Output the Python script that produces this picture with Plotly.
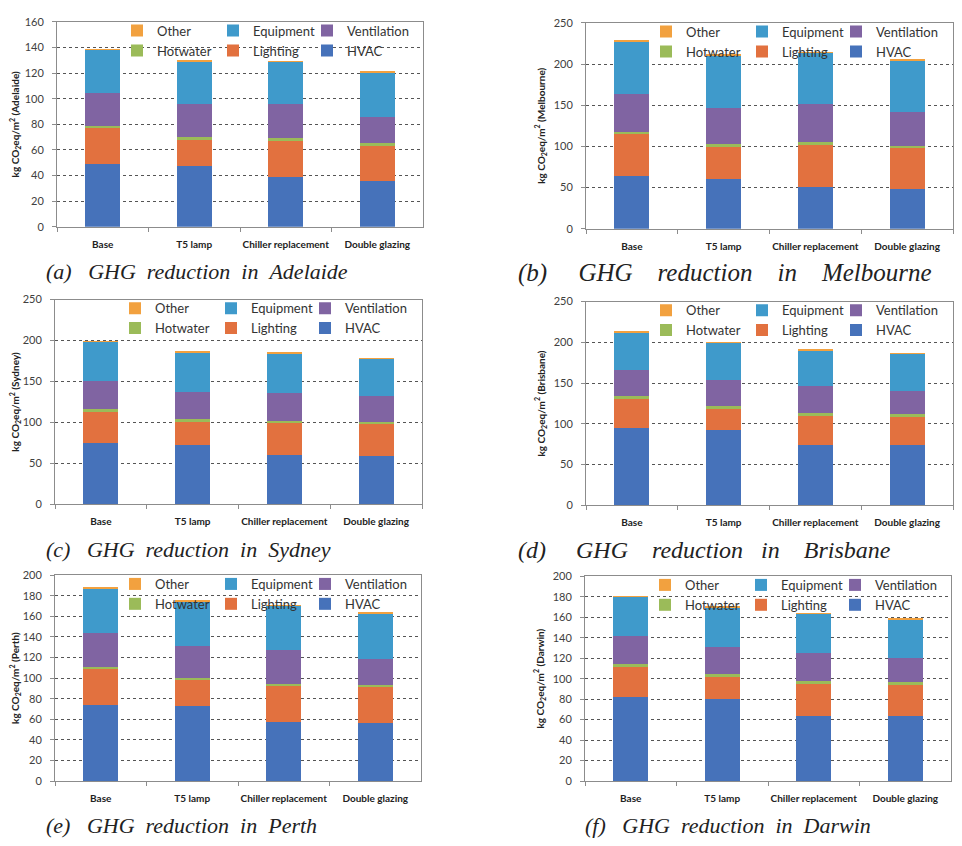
import plotly.graph_objects as go

W, H = 962, 846
PAGE_OFFSET = 8  # default body margin of the page that holds the figure

categories = ["Base", "T5 lamp", "Chiller replacement", "Double glazing"]
series_names = ["HVAC", "Lighting", "Hotwater", "Ventilation", "Equipment", "Other"]

# kg CO2eq/m2 per end use
adelaide_hvac = [49, 47.4, 39, 36]
adelaide_lighting = [27.8, 20.4, 28, 27]
adelaide_hotwater = [1.8, 2.2, 2, 2]
adelaide_ventilation = [26, 25.5, 26.5, 21]
adelaide_equipment = [33.7, 34, 33.5, 34.5]
adelaide_other = [0.5, 0.5, 0.5, 0.5]

melbourne_hvac = [64, 60.5, 50.5, 48.5]
melbourne_lighting = [51.5, 40, 52, 50]
melbourne_hotwater = [2, 2.4, 2.4, 2.4]
melbourne_ventilation = [46, 43.5, 46, 40.5]
melbourne_equipment = [64, 64, 63, 63]
melbourne_other = [0.8, 0.8, 0.8, 0.8]

sydney_hvac = [75, 73, 60, 59]
sydney_lighting = [39, 29, 40, 40]
sydney_hotwater = [2, 2, 2, 2]
sydney_ventilation = [35, 33, 34, 31]
sydney_equipment = [48, 49.5, 49, 46]
sydney_other = [0.7, 0.7, 0.7, 0.7]

brisbane_hvac = [95, 92, 74.5, 74.5]
brisbane_lighting = [37, 27, 35.5, 35.5]
brisbane_hotwater = [2, 2.4, 3, 2.3]
brisbane_ventilation = [32, 32, 33, 28]
brisbane_equipment = [47, 46.5, 45, 46]
brisbane_other = [0.7, 0.7, 0.7, 0.5]

perth_hvac = [74, 72.5, 57.5, 56]
perth_lighting = [35, 25.5, 34.5, 35]
perth_hotwater = [2, 2.5, 2, 2]
perth_ventilation = [33, 31, 33, 26]
perth_equipment = [43, 43, 43, 44]
perth_other = [0.5, 0.5, 0.5, 0.5]

darwin_hvac = [82, 80, 64, 64]
darwin_lighting = [29, 22, 31, 30]
darwin_hotwater = [3, 3, 2.5, 2.5]
darwin_ventilation = [27.5, 26, 28, 23.5]
darwin_equipment = [38, 38, 37.5, 37.5]
darwin_other = [0.8, 0.8, 0.8, 0.8]

city_data = {
    "Adelaide": [adelaide_hvac, adelaide_lighting, adelaide_hotwater,
                 adelaide_ventilation, adelaide_equipment, adelaide_other],
    "Melbourne": [melbourne_hvac, melbourne_lighting, melbourne_hotwater,
                  melbourne_ventilation, melbourne_equipment, melbourne_other],
    "Sydney": [sydney_hvac, sydney_lighting, sydney_hotwater,
               sydney_ventilation, sydney_equipment, sydney_other],
    "Brisbane": [brisbane_hvac, brisbane_lighting, brisbane_hotwater,
                 brisbane_ventilation, brisbane_equipment, brisbane_other],
    "Perth": [perth_hvac, perth_lighting, perth_hotwater,
              perth_ventilation, perth_equipment, perth_other],
    "Darwin": [darwin_hvac, darwin_lighting, darwin_hotwater,
               darwin_ventilation, darwin_equipment, darwin_other],
}

colors = {
    "HVAC": "#4672BA",
    "Lighting": "#E2713F",
    "Hotwater": "#9BBB59",
    "Ventilation": "#8064A2",
    "Equipment": "#3F9ACB",
    "Other": "#F2A13F",
}

legend_col = {"HVAC": 2, "Lighting": 1, "Hotwater": 0,
              "Ventilation": 2, "Equipment": 1, "Other": 0}
legend_col_offset = [60, 156, 250]   # px from plot left edge

# panel geometry in screen pixels (as seen in the reference)
panels = [
    dict(city="Adelaide", letter="a", l=57, r=423, t=15, b=223, ymax=160, dtick=20,
         cx=44, cy=268, cs=22, gaps=(3, 2, 2, 2)),
    dict(city="Melbourne", letter="b", l=586, r=953, t=16, b=225, ymax=250, dtick=50,
         cx=516, cy=270, cs=25, gaps=(5, 4, 4, 4)),
    dict(city="Sydney", letter="c", l=55, r=422, t=297, b=505, ymax=250, dtick=50,
         cx=44, cy=551, cs=22, gaps=(3, 2, 2, 2)),
    dict(city="Brisbane", letter="d", l=586, r=953, t=299, b=506, ymax=250, dtick=50,
         cx=516, cy=551, cs=24, gaps=(5, 4, 3, 4)),
    dict(city="Perth", letter="e", l=55, r=421, t=577, b=786, ymax=200, dtick=20,
         cx=44, cy=831, cs=22, gaps=(3, 2, 2, 2)),
    dict(city="Darwin", letter="f", l=585, r=951, t=578, b=786, ymax=200, dtick=20,
         cx=583, cy=831, cs=22, gaps=(3, 2, 2, 2)),
]


def px_x(x):
    return (x - PAGE_OFFSET) / W


def px_y(y):
    return 1 - (y - PAGE_OFFSET) / H


fig = go.Figure()
layout = dict(
    width=W, height=H,
    margin=dict(l=0, r=0, t=0, b=0),
    paper_bgcolor="white", plot_bgcolor="white",
    barmode="stack", bargap=0.62,
    font=dict(family="Lato", color="#333333"),
    showlegend=True,
)
annotations = []
NB = "\u00a0"

for k, p in enumerate(panels):
    i = k + 1
    xa = "x" if i == 1 else f"x{i}"
    ya = "y" if i == 1 else f"y{i}"
    leg_names = []
    for c in range(3):
        idx = 3 * k + c + 1
        leg_names.append("legend" if idx == 1 else f"legend{idx}")
    vals = city_data[p["city"]]
    for j, name in enumerate(series_names):
        fig.add_trace(go.Bar(
            x=categories, y=vals[j], name=name,
            marker=dict(color=colors[name], line=dict(width=0)),
            xaxis=xa, yaxis=ya,
            legend=leg_names[legend_col[name]],
        ))
    xd = [px_x(p["l"]), px_x(p["r"])]
    yd = [px_y(p["b"]), px_y(p["t"])]
    xkey = "xaxis" if i == 1 else f"xaxis{i}"
    ykey = "yaxis" if i == 1 else f"yaxis{i}"
    layout[xkey] = dict(
        domain=xd, anchor=ya, type="category",
        showline=True, linecolor="#8c8c8c", linewidth=1, mirror=True,
        ticks="outside", tickson="boundaries", ticklen=4, tickcolor="#8c8c8c",
        showgrid=False, ticklabelstandoff=8, tickangle=0,
        tickfont=dict(family="Lato", size=10, color="#222222", weight="bold"),
    )
    layout[ykey] = dict(
        domain=yd, anchor=xa, range=[0, p["ymax"]], dtick=p["dtick"],
        showline=True, linecolor="#8c8c8c", linewidth=1, mirror=True,
        ticks="outside", ticklen=4, tickcolor="#8c8c8c",
        showgrid=True, gridcolor="#555555", griddash="dot", gridwidth=1,
        zeroline=False, ticklabelstandoff=6,
        tickfont=dict(family="Lato", size=11, color="#404040"),
        title=dict(
            text=f"<b>kg CO<sub>2</sub>eq/m<sup>2</sup> ({p['city']})</b>",
            font=dict(family="Lato", size=10, color="#222222"),
            standoff=6,
        ),
    )
    for c in range(3):
        layout[leg_names[c]] = dict(
            x=px_x(p["l"] + legend_col_offset[c]), xanchor="left",
            y=px_y(p["t"] + 19), yanchor="middle",
            orientation="v", traceorder="reversed", itemwidth=30,
            tracegroupgap=0,
            bgcolor="rgba(0,0,0,0)", borderwidth=0,
            font=dict(family="Lato", size=13, color="#333333"),
        )
    g = p["gaps"]
    cap = (f"<i>({p['letter']}){NB*g[0]}GHG{NB*g[1]}reduction{NB*g[2]}in"
           f"{NB*g[3]}{p['city']}</i>")
    annotations.append(dict(
        text=cap, xref="paper", yref="paper",
        x=px_x(p["cx"]), y=px_y(p["cy"]), xanchor="left", yanchor="middle",
        showarrow=False,
        font=dict(family="Liberation Serif", size=p["cs"], color="#222222"),
    ))

layout["annotations"] = annotations
fig.update_layout(**layout)
fig.write_html("out.html")
